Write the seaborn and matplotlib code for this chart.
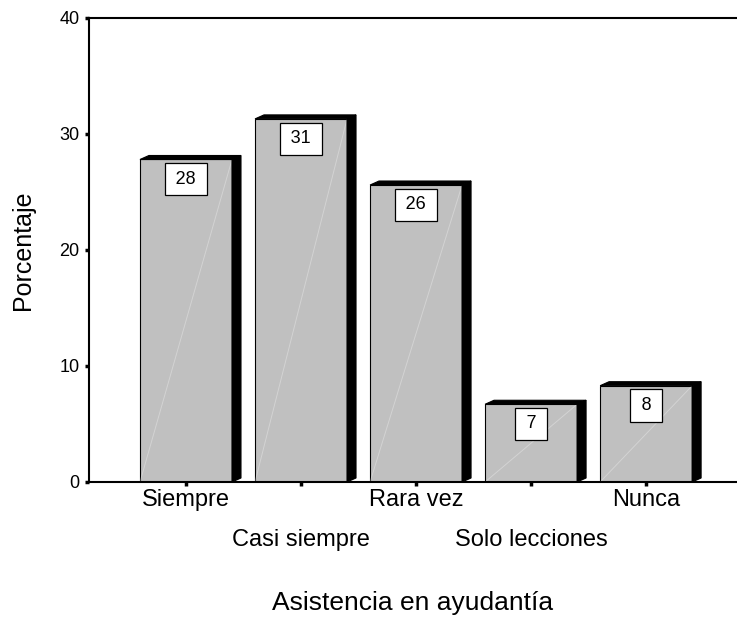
import matplotlib
matplotlib.use('Agg')
import matplotlib.pyplot as plt
import seaborn as sns
from matplotlib.patches import Polygon

# Data
categories = ['Siempre', 'Casi siempre', 'Rara vez', 'Solo lecciones', 'Nunca']
percentages = [27.8, 31.3, 25.6, 6.7, 8.3]
y_ticks = [0, 10, 20, 30, 40]

sns.set_style('white')
plt.rcParams['font.family'] = ['Liberation Sans', 'DejaVu Sans']
plt.rcParams['text.color'] = 'black'
plt.rcParams['axes.labelcolor'] = 'black'

fig = plt.figure(figsize=(7.37, 6.22), dpi=100)
ax = fig.add_axes([0.1208, 0.2251, 0.8792, 0.746])

sns.barplot(x=categories, y=percentages, color='#c0c0c0', saturation=1,
            edgecolor='black', linewidth=0.8, width=0.8, ax=ax)

# fake 3D depth: dark side and top faces
dx, dy = 0.078, 0.345
for bar, val in zip(ax.patches, percentages):
    x0 = bar.get_x()
    x1 = x0 + bar.get_width()
    top = bar.get_height()
    side = Polygon([(x1, 0), (x1, top), (x1 + dx, top + dy), (x1 + dx, dy)],
                   closed=True, facecolor='black', edgecolor='black', lw=0.8,
                   zorder=3)
    lid = Polygon([(x0, top), (x1, top), (x1 + dx, top + dy), (x0 + dx, top + dy)],
                  closed=True, facecolor='black', edgecolor='black', lw=0.8,
                  zorder=3)
    ax.add_patch(side)
    ax.add_patch(lid)
    # faint highlight line across the face
    ax.plot([x0, x1], [0, top], color='white', alpha=0.3, lw=0.7, zorder=2.5)
    ax.text((x0 + x1) / 2, top - 1.7, '\u2009%d\u2009' % round(val),
            ha='center', va='center', fontsize=13, color='black', zorder=4,
            bbox=dict(boxstyle='square,pad=0.42', facecolor='white',
                      edgecolor='black', linewidth=0.9))

ax.set_ylim(0, 40)
ax.set_yticks(y_ticks)
ax.set_xlim(-0.843, 4.79)

for s in ['left', 'top', 'bottom']:
    ax.spines[s].set_visible(True)
    ax.spines[s].set_color('black')
    ax.spines[s].set_linewidth(1.5)
ax.spines['right'].set_visible(False)

ax.tick_params(axis='y', direction='out', length=3, width=2.5, labelsize=13, pad=4,
               left=True, colors='black')
ax.tick_params(axis='x', direction='out', length=3, width=2.5, labelsize=17,
               bottom=True, colors='black')

# staggered category labels
for i, tick in enumerate(ax.xaxis.get_major_ticks()):
    tick.set_pad(2 if i % 2 == 0 else 31)

ax.set_xlabel('Asistencia en ayudantía', fontsize=19)
ax.xaxis.set_label_coords(0.5, -0.235)
ax.set_ylabel('Porcentaje', fontsize=18)
ax.yaxis.set_label_coords(-0.083, 0.5)

plt.savefig('out.png')
